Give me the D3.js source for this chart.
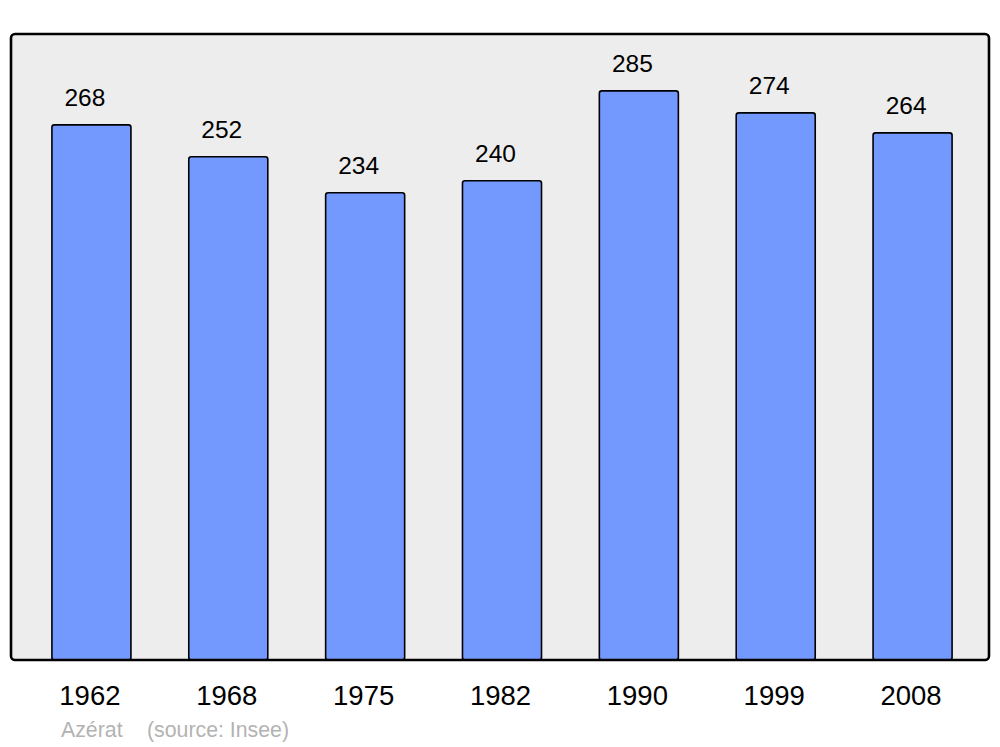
<!DOCTYPE html>
<html><head><meta charset="utf-8">
<script src="https://cdn.jsdelivr.net/npm/d3@7"></script>
<style>html,body{margin:0;padding:0;background:#fff}</style>
</head><body>
<svg id="c" width="1000" height="747"></svg>
<script>
const years = ["1962","1968","1975","1982","1990","1999","2008"];
const population = [268,252,234,240,285,274,264];
const sourceLabel = "Azérat";
const sourceNote = "(source: Insee)";

const svg = d3.select("#c");
const font = "'Liberation Sans', Arial, sans-serif";
const plot = {left: 11, top: 34, right: 989, bottom: 660};

const x = d3.scaleBand().domain(years).range([23, 981]).paddingInner(0.4226).paddingOuter(0.2113);
const y = d3.scaleLinear().domain([0, d3.max(population) * 1.1]).range([plot.bottom, plot.top]);

svg.append("rect")
  .attr("x", plot.left).attr("y", plot.top)
  .attr("width", plot.right - plot.left).attr("height", plot.bottom - plot.top)
  .attr("rx", 4).attr("ry", 4)
  .attr("fill", "#ededed");

svg.selectAll("rect.bar").data(population).enter().append("rect")
  .attr("class", "bar")
  .attr("x", (d, i) => x(years[i]))
  .attr("y", d => y(d))
  .attr("width", x.bandwidth())
  .attr("height", d => y(0) - y(d))
  .attr("rx", 2.5).attr("ry", 2.5)
  .attr("fill", "#7399ff").attr("stroke", "#000").attr("stroke-width", 1.6);

svg.append("rect")
  .attr("x", plot.left).attr("y", plot.top)
  .attr("width", plot.right - plot.left).attr("height", plot.bottom - plot.top)
  .attr("rx", 4).attr("ry", 4)
  .attr("fill", "none").attr("stroke", "#000").attr("stroke-width", 2.6);

svg.selectAll("text.val").data(population).enter().append("text")
  .attr("class", "val")
  .attr("x", (d, i) => x(years[i]) + x.bandwidth() / 2 - 6.5)
  .attr("y", d => y(d) - 19)
  .attr("text-anchor", "middle")
  .attr("font-family", font).attr("font-size", 24.5)
  .attr("fill", "#000")
  .text(d => d);

svg.selectAll("text.year").data(years).enter().append("text")
  .attr("class", "year")
  .attr("x", d => x(d) + x.bandwidth() / 2 - 1.5)
  .attr("y", 705)
  .attr("text-anchor", "middle")
  .attr("font-family", font).attr("font-size", 27.5)
  .attr("fill", "#000")
  .text(d => d);

svg.append("text")
  .attr("x", 61).attr("y", 737)
  .attr("font-family", font).attr("font-size", 21.3)
  .attr("fill", "#b3b3b3")
  .text(sourceLabel);
svg.append("text")
  .attr("x", 147).attr("y", 737)
  .attr("font-family", font).attr("font-size", 21.3)
  .attr("fill", "#b3b3b3")
  .text(sourceNote);
</script>
</body></html>
